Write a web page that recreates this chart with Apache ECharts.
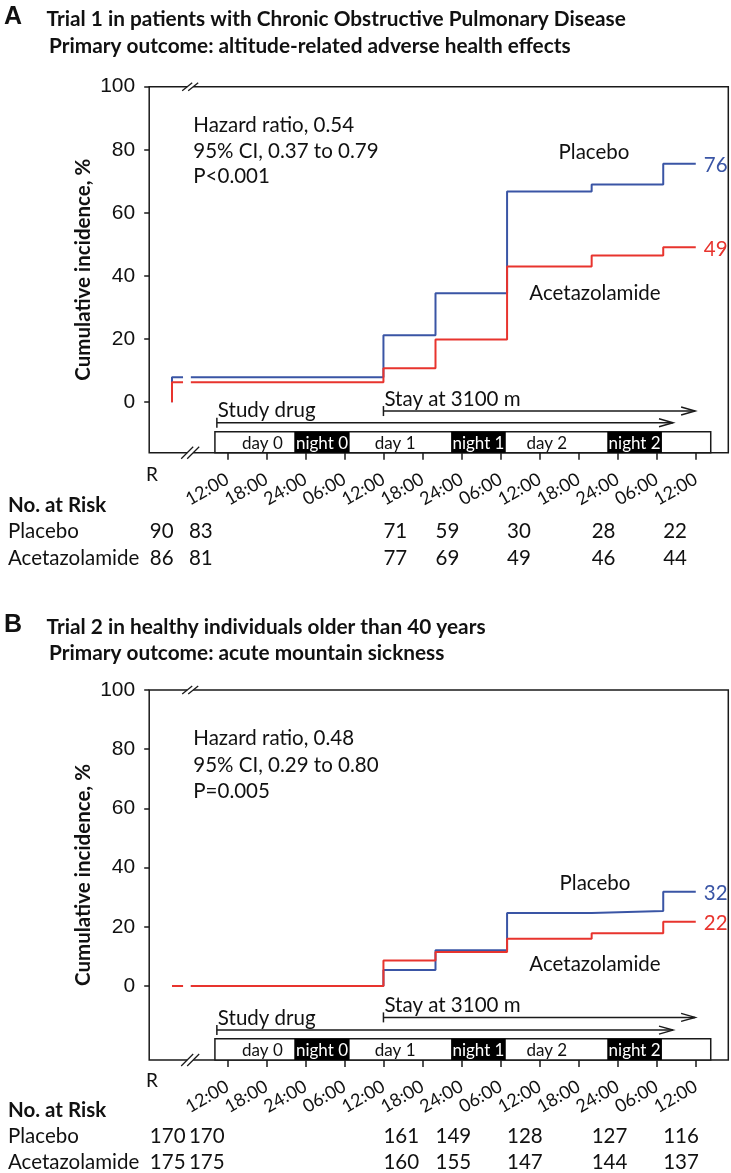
<!DOCTYPE html>
<html><head><meta charset="utf-8">
<script src="https://cdn.jsdelivr.net/npm/echarts@6/dist/echarts.min.js"></script>
<style>html,body{margin:0;padding:0;background:#fff}#c{width:731px;height:1173px}</style>
</head><body><div id="c"></div>
<script>
// ---------------- data ----------------
const tickHours = [0, 6, 12, 18, 24, 30, 36, 42, 48, 54, 60, 66, 72];
const tickLabels = ['12:00','18:00','24:00','06:00','12:00','18:00','24:00','06:00','12:00','18:00','24:00','06:00','12:00'];
const yTicks = [0, 20, 40, 60, 80, 100];
const stepTimes = [-8.5, 24, 32, 43, 56, 67];
const endTime = 72;
const placeboA = [7.9, 21.2, 34.5, 66.8, 69.0, 75.6];
const acetaA = [6.3, 10.8, 19.9, 43.0, 46.5, 49.1];
const placeboB = [0, 5.4, 12.1, 24.7, 25.3, 31.8];
const acetaB = [0, 8.6, 11.5, 16.0, 17.8, 21.7];
const finalA = ['76', '49'];
const finalB = ['32', '22'];
const riskTimes = [-11.9, -5.9, 24, 32, 43, 56, 67];
const riskPlaceboA = [90, 83, 71, 59, 30, 28, 22];
const riskAcetaA = [86, 81, 77, 69, 49, 46, 44];
const riskPlaceboB = [170, 170, 161, 149, 128, 127, 116];
const riskAcetaB = [175, 175, 160, 155, 147, 144, 137];
const scheduleBox = [-1.9, 74.3];
const nights = [[10.3, 18.8, 'night 0'], [34.4, 42.8, 'night 1'], [58.4, 66.8, 'night 2']];
const days = [['day 0', 5.4], ['day 1', 25.8], ['day 2', 49.1]];
const studyDrug = [-1.6, 68.5];
const stay = [24, 71.9];
const gapRange = [-6.8, -5.6];
const breakAt = -5.7;
const titlesA = ['A', 'Trial 1 in patients with Chronic Obstructive Pulmonary Disease', 'Primary outcome: altitude-related adverse health effects'];
const titlesB = ['B', 'Trial 2 in healthy individuals older than 40 years', 'Primary outcome: acute mountain sickness'];
const statsA = ['Hazard ratio, 0.54', '95% CI, 0.37 to 0.79', 'P<0.001'];
const statsB = ['Hazard ratio, 0.48', '95% CI, 0.29 to 0.80', 'P=0.005'];

// ---------------- style / layout ----------------
const BLUE = '#3a55a5', RED = '#e8342e', INK = '#1a1a1a';
const CAL = 'Lato', ARIAL = 'Liberation Sans';
const FS = 20.5;
const panels = [
  {g: 0, top: 86.7, height: 366, ymin: -16, boxTop: -9.35, studyY: -6.5, stayY: -2.8,
   titleY: [19.5, 46.5], hazY: [125, 151, 176.5], plLbl: [594, 152], acLbl: [595, 293],
   riskY: [505, 531, 558], rY: 475, titles: titlesA, stats: statsA, fin: finalA,
   pl: placeboA, ac: acetaA, rp: riskPlaceboA, ra: riskAcetaA},
  {g: 1, top: 690, height: 370, ymin: -25, boxTop: -17.8, studyY: -14.9, stayY: -10.6,
   titleY: [627, 653], hazY: [738.5, 765, 791.5], plLbl: [595, 883], acLbl: [595, 964],
   riskY: [1110, 1136, 1162], rY: 1081, titles: titlesB, stats: statsB, fin: finalB,
   pl: placeboB, ac: acetaB, rp: riskPlaceboB, ra: riskAcetaB}
];

const chart = echarts.init(document.getElementById('c'), null, {renderer: 'canvas', width: 731, height: 1173});

function curveSeries(g, vals, color, z) {
  const pre = [[stepTimes[0], 0], [stepTimes[0], vals[0]], [gapRange[0], vals[0]]];
  const post = [[gapRange[1], vals[0]]];
  for (let i = 1; i < stepTimes.length; i++) post.push([stepTimes[i], vals[i]]);
  post.push([endTime, vals[vals.length - 1]]);
  const base = {type: 'line', xAxisIndex: g, yAxisIndex: g, step: 'end', symbol: 'none', showSymbol: false,
    lineStyle: {color: color, width: 2}, itemStyle: {color: color}, z: z, silent: true, animation: false};
  return [Object.assign({}, base, {data: pre}), Object.assign({}, base, {data: post})];
}

const option = {
  animation: false,
  grid: panels.map(p => ({left: 149.2, top: p.top, width: 579.1, height: p.height, show: true,
    borderColor: INK, borderWidth: 1.5, backgroundColor: 'transparent'})),
  xAxis: panels.map(p => ({gridIndex: p.g, type: 'value', min: -12, max: 77, interval: 6,
    axisLine: {show: false, onZero: false}, splitLine: {show: false},
    axisTick: {show: true, customValues: tickHours, length: 7, lineStyle: {color: INK, width: 1.5}},
    axisLabel: {customValues: tickHours, rotate: 30, margin: 25, fontFamily: CAL, fontSize: 18, color: '#111',
      formatter: v => tickLabels[Math.round(v / 6)]}})),
  yAxis: panels.map(p => ({gridIndex: p.g, type: 'value', min: p.ymin, max: 100,
    axisLine: {show: false, onZero: false}, splitLine: {show: false},
    axisTick: {show: true, customValues: yTicks, length: 5, lineStyle: {color: INK, width: 1.5}},
    axisLabel: {customValues: yTicks, margin: 14, fontFamily: ARIAL, fontSize: 21, color: '#111'}})),
  series: [].concat(
    curveSeries(0, placeboA, BLUE, 3), curveSeries(0, acetaA, RED, 4),
    curveSeries(1, placeboB, BLUE, 3), curveSeries(1, acetaB, RED, 4))
};
chart.setOption(option);

function P(g, t, v) { return chart.convertToPixel({gridIndex: g}, [t, v]); }
function txt(x, y, s, o) {
  o = o || {};
  return {type: 'text', x: x, y: y, z: 100, silent: true, rotation: o.rot || 0,
    style: {text: s, fontFamily: o.ff || CAL, fontSize: o.fs || FS, fontWeight: o.fw || 'normal',
      fill: o.fill || '#111', align: o.align || 'left', verticalAlign: o.va || 'middle'}};
}
function line(x1, y1, x2, y2, w, c) {
  return {type: 'line', z: 100, silent: true, shape: {x1: x1, y1: y1, x2: x2, y2: y2},
    style: {stroke: c || INK, lineWidth: w || 1.5}};
}

const els = [];
panels.forEach(p => {
  const g = p.g;
  // titles
  els.push(txt(4, p.titleY[0] - 2, p.titles[0], {ff: ARIAL, fw: 'bold', fs: 25}));
  els.push(txt(46.6, p.titleY[0], p.titles[1], {fw: 'bold', fs: 20.8}));
  els.push(txt(49, p.titleY[1], p.titles[2], {fw: 'bold', fs: 20.8}));
  // y-axis name
  els.push(txt(83, p.top + p.height / 2, 'Cumulative incidence, %', {fw: 'bold', align: 'center', rot: Math.PI / 2}));
  // stats
  p.stats.forEach((s, i) => els.push(txt(193.3, p.hazY[i], s)));
  // group labels
  els.push(txt(p.plLbl[0], p.plLbl[1], 'Placebo', {align: 'center'}));
  els.push(txt(p.acLbl[0], p.acLbl[1], 'Acetazolamide', {align: 'center'}));
  // final values
  const e1 = P(g, endTime, p.pl[p.pl.length - 1]);
  const e2 = P(g, endTime, p.ac[p.ac.length - 1]);
  els.push(txt(e1[0] + 8, e1[1] + 2, p.fin[0], {fill: BLUE}));
  els.push(txt(e2[0] + 8, e2[1] + 2, p.fin[1], {fill: RED}));
  // break marks
  const topY = P(g, breakAt, 100)[1], botY = P(g, breakAt, p.ymin)[1], bx = P(g, breakAt, 0)[0];
  [[topY, 5, 4], [botY, 6, 6]].forEach(([yy, hw, hh]) => {
    els.push({type: 'rect', z: 99, silent: true, shape: {x: bx - 3, y: yy - 2, width: 6, height: 4}, style: {fill: '#fff'}});
    els.push(line(bx - 3 - hw, yy + hh, bx - 3 + hw, yy - hh, 1.3));
    els.push(line(bx + 3 - hw, yy + hh, bx + 3 + hw, yy - hh, 1.3));
  });
  // schedule box
  const b0 = P(g, scheduleBox[0], p.boxTop), b1 = P(g, scheduleBox[1], p.ymin);
  els.push({type: 'rect', z: 100, silent: true, shape: {x: b0[0], y: b0[1], width: b1[0] - b0[0], height: b1[1] - b0[1]},
    style: {fill: '#fff', stroke: INK, lineWidth: 1.5}});
  const cy = (b0[1] + b1[1]) / 2;
  nights.forEach(n => {
    const n0 = P(g, n[0], p.boxTop)[0], n1 = P(g, n[1], p.boxTop)[0];
    els.push({type: 'rect', z: 101, silent: true, shape: {x: n0, y: b0[1], width: n1 - n0, height: b1[1] - b0[1]},
      style: {fill: '#000'}});
    els.push(Object.assign(txt((n0 + n1) / 2, cy + 1, n[2], {fs: 17, fill: '#fff', align: 'center'}), {z: 102}));
  });
  days.forEach(d => {
    els.push(Object.assign(txt(P(g, d[1], 0)[0], cy + 1, d[0], {fs: 17, align: 'center'}), {z: 102}));
  });
  // arrows
  [[studyDrug, p.studyY, 'Study drug'], [stay, p.stayY, 'Stay at 3100 m']].forEach(([rng, yv, lab]) => {
    const a = P(g, rng[0], yv), c = P(g, rng[1], yv);
    els.push(line(a[0], a[1], c[0], c[1], 1.5));
    els.push(line(a[0], a[1] - 5, a[0], a[1] + 5, 1.5));
    els.push({type: 'polyline', z: 100, silent: true, shape: {points: [[c[0] - 14, c[1] - 4], [c[0], c[1]], [c[0] - 14, c[1] + 4]]},
      style: {stroke: INK, lineWidth: 1.5, fill: null}});
    els.push(txt(a[0] + 1, a[1] - 12, lab));
  });
  // R label
  els.push(txt(152, p.rY, 'R', {fs: 19, align: 'center'}));
  // risk table
  els.push(txt(8, p.riskY[0], 'No. at Risk', {fw: 'bold'}));
  els.push(txt(8, p.riskY[1], 'Placebo'));
  els.push(txt(8, p.riskY[2], 'Acetazolamide'));
  riskTimes.forEach((t, i) => {
    const x = P(g, t, 0)[0];
    els.push(txt(x, p.riskY[1], String(p.rp[i])));
    els.push(txt(x, p.riskY[2], String(p.ra[i])));
  });
});
chart.setOption({graphic: {elements: els}});
</script>
</body></html>
